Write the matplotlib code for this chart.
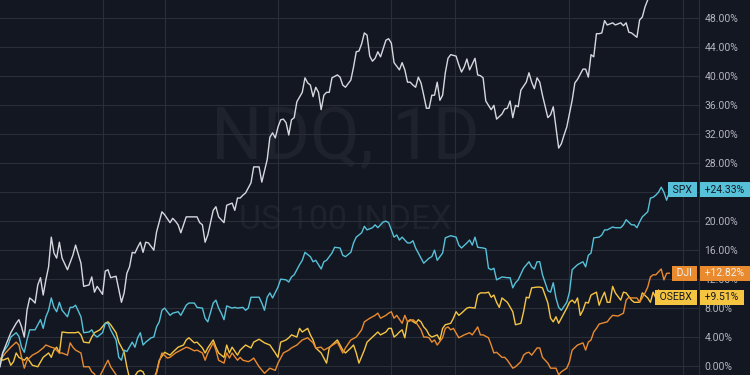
import matplotlib.pyplot as plt
from matplotlib.transforms import blended_transform_factory

plt.rcParams['font.family'] = ['Roboto', 'DejaVu Sans']

# percent change since start, by trading day
ndq_day = [0, 1, 4, 6, 7, 8, 9, 10, 11, 12, 13, 14, 15, 16, 17, 18, 19, 20, 21, 22, 23, 25, 27, 28, 30, 31, 33, 34, 35, 36,
           38, 39, 40, 41, 43, 45, 46, 47, 48, 49, 50, 51, 52, 53, 54, 55, 57, 58, 60, 61, 63, 64, 65, 66, 67, 69, 71, 73, 74, 75,
           76, 77, 79, 80, 81, 83, 84, 86, 87, 88, 89, 90, 91, 93, 94, 95, 96, 97, 99, 100, 101, 102, 103, 104, 105, 106, 107, 108, 109, 110,
           112, 113, 114, 115, 116, 117, 118, 119, 120, 121, 122, 123, 125, 126, 127, 128, 130, 131, 132, 133, 134, 135, 136, 137, 138, 139,
           140, 141, 143, 144, 145, 146, 147, 148, 149, 150, 151, 152, 153, 154, 155, 156, 157, 158, 159, 160, 161, 162, 163, 164, 165, 166,
           167, 169, 170, 171, 172, 173, 174, 176, 177, 178, 179, 180, 182, 183, 184, 186, 187, 188, 189, 190, 191, 192, 193, 195, 196, 197,
           198, 199, 200, 201, 203, 204, 205, 206, 207, 208, 209, 210, 212, 213, 214, 216, 217, 218, 219, 220, 221, 222, 223, 224, 225, 227,
           228, 230, 231, 232, 233, 234, 236, 237, 238, 239, 240, 242, 244, 246, 248, 250, 252]
ndq_pct = [-0.1, 1.8, 4.6, 5.9, 6.4, 5.4, 4.0, 7.7, 9.4, 9.1, 8.7, 11.2, 12.2, 9.8, 11.9, 13.7, 17.8, 15.6, 14.9, 17.1, 14.9, 13.3, 15.3, 16.7, 14.2, 11.0, 11.2, 12.3, 10.2, 11.0,
           9.9, 13.1, 13.3, 12.2, 12.4, 8.8, 10.1, 12.8, 13.7, 15.7, 15.6, 16.4, 17.1, 15.7, 17.1, 17.0, 16.0, 18.5, 21.3, 20.9, 19.8, 20.4, 20.0, 19.5, 18.4, 20.6, 20.6, 20.6, 19.8, 19.5,
           17.1, 18.1, 21.5, 22.0, 20.6, 19.8, 22.2, 22.5, 21.5, 23.2, 23.2, 23.6, 23.9, 25.3, 27.5, 27.5, 27.5, 25.4, 28.5, 31.6, 32.2, 31.5, 33.0, 34.0, 34.1, 33.6, 31.9, 34.0, 34.3, 36.5,
           37.8, 39.8, 39.1, 38.8, 37.2, 38.5, 37.8, 35.4, 37.4, 37.8, 37.8, 39.8, 40.2, 39.9, 38.8, 38.5, 39.5, 41.3, 43.4, 43.5, 44.5, 46.0, 45.7, 42.8, 42.1, 42.5,
           43.4, 42.7, 45.0, 45.2, 44.6, 41.9, 41.4, 40.9, 41.9, 40.9, 39.2, 39.2, 38.8, 38.5, 39.9, 39.1, 37.4, 35.6, 35.6, 37.4, 37.4, 39.2, 36.7, 37.4, 40.5, 42.5,
           43.0, 42.8, 41.6, 40.6, 41.3, 42.4, 40.9, 42.5, 40.2, 40.1, 39.8, 36.6, 35.4, 36.0, 34.1, 34.8, 35.5, 35.6, 36.6, 34.3, 36.0, 35.8, 38.1, 39.2, 40.5, 39.2,
           38.3, 39.8, 39.2, 37.4, 34.3, 34.7, 35.8, 33.0, 30.1, 30.7, 31.9, 33.0, 36.7, 39.1, 39.6, 41.0, 41.0, 39.9, 43.0, 42.7, 45.9, 45.9, 46.0, 47.7, 47.1, 47.4,
           47.1, 47.4, 47.0, 47.4, 46.1, 46.0, 45.4, 47.8, 48.2, 49.6, 50.6, 52.0, 53.1, 52.6, 54.0, 53.5, 54.5]

spx_day = [0, 1, 3, 4, 6, 7, 8, 9, 10, 11, 12, 13, 14, 15, 16, 17, 18, 19, 20, 21, 22, 23, 25, 26, 27, 28, 30, 31, 33, 34,
           35, 36, 38, 39, 40, 41, 43, 44, 45, 46, 47, 49, 50, 51, 52, 53, 54, 56, 57, 58, 59, 60, 61, 63, 64, 66, 67, 69, 70, 72,
           73, 75, 76, 77, 79, 80, 81, 82, 83, 84, 86, 87, 88, 90, 91, 92, 93, 94, 96, 97, 98, 99, 100, 101, 103, 104, 106, 107, 108, 109,
           111, 112, 113, 115, 116, 117, 119, 120, 121, 123, 124, 126, 127, 128, 130, 131, 132, 134, 135, 136, 138, 139, 140, 142, 143, 144,
           146, 147, 148, 149, 151, 152, 153, 154, 156, 157, 159, 160, 161, 162, 164, 165, 167, 169, 170, 171, 173, 174, 175, 176, 177, 179,
           180, 181, 182, 183, 184, 186, 188, 189, 190, 191, 192, 194, 196, 197, 198, 199, 200, 201, 203, 204, 205, 206, 207, 208, 210, 211,
           212, 214, 215, 216, 217, 218, 219, 220, 222, 223, 224, 225, 227, 228, 230, 231, 232, 234, 235, 236, 237, 238, 240, 241, 242, 243,
           244, 245, 246, 247, 248, 249]
spx_pct = [0.1, 1.8, 2.9, 4.0, 4.6, 4.1, 2.6, 1.9, 3.6, 5.0, 5.0, 5.0, 5.7, 6.4, 5.2, 6.8, 7.7, 9.4, 8.1, 7.5, 8.8, 7.7, 6.8, 8.1, 8.1, 8.4, 6.8, 4.6, 4.7, 5.0,
           4.3, 4.0, 4.6, 5.9, 5.9, 5.0, 3.6, 1.2, 0.8, 2.2, 2.0, 3.3, 2.6, 3.9, 4.6, 2.9, 3.3, 3.9, 4.0, 5.4, 6.1, 7.7, 8.0, 7.0, 7.3, 7.5, 7.0, 8.4, 8.7, 8.7,
           8.1, 8.0, 6.6, 6.1, 8.7, 9.1, 8.0, 7.3, 6.4, 8.3, 8.0, 8.1, 8.0, 8.1, 7.7, 8.0, 9.5, 9.5, 9.5, 8.7, 7.7, 9.5, 10.1, 9.4, 10.9, 12.0, 11.9, 11.6, 12.3, 12.6,
           14.0, 14.6, 15.7, 15.1, 14.4, 14.6, 13.4, 14.4, 14.6, 15.6, 16.4, 16.3, 15.3, 15.1, 15.7, 17.0, 17.8, 18.4, 19.3, 18.8, 19.1, 19.5, 19.1, 19.9, 20.0, 19.8,
           17.8, 18.1, 17.4, 17.8, 17.0, 17.0, 17.3, 16.3, 14.9, 14.2, 14.9, 15.1, 16.0, 14.6, 15.6, 17.7, 18.0, 17.8, 16.7, 16.3, 17.0, 17.4, 16.7, 17.8, 16.4, 16.3,
           16.2, 13.5, 13.3, 13.5, 11.9, 12.3, 12.2, 12.2, 10.8, 11.5, 11.9, 13.5, 14.4, 13.7, 13.4, 14.4, 14.4, 12.6, 10.4, 10.2, 11.5, 9.4, 8.1, 7.7, 8.8, 10.2,
           13.3, 14.0, 14.2, 14.4, 13.7, 15.3, 15.6, 17.7, 17.8, 18.1, 18.8, 18.8, 19.2, 19.1, 19.1, 19.5, 20.2, 19.5, 19.5, 19.1, 19.9, 20.6, 21.3, 23.2, 23.3, 23.6,
           24.0, 24.7, 24.0, 22.9, 24.0, 24.33]

dji_day = [0, 2, 4, 6, 7, 8, 9, 10, 12, 14, 15, 16, 17, 19, 20, 22, 23, 25, 26, 27, 28, 30, 31, 33, 34, 35, 36, 37, 39, 40,
           41, 43, 44, 46, 48, 50, 52, 54, 56, 58, 59, 60, 62, 63, 65, 67, 69, 70, 72, 73, 75, 76, 77, 79, 80, 81, 83, 84, 85, 86,
           88, 89, 90, 92, 93, 94, 96, 98, 100, 102, 103, 105, 107, 108, 110, 112, 114, 116, 117, 119, 120, 122, 125, 127, 128, 130, 132, 134, 135, 137,
           139, 140, 141, 143, 144, 145, 146, 147, 149, 150, 151, 153, 154, 156, 157, 158, 159, 160, 161, 162, 164, 165, 166, 167, 168, 170, 172, 174, 175, 177,
           178, 179, 181, 182, 183, 184, 186, 187, 188, 190, 191, 193, 194, 195, 196, 197, 199, 200, 201, 203, 204, 206, 207, 208, 210, 211, 212, 214, 216, 217,
           218, 219, 220, 221, 222, 223, 225, 226, 227, 229, 231, 232, 233, 234, 236, 237, 239, 240, 241, 242, 243, 245, 246, 247, 248]
dji_pct = [0.8, 1.8, 2.6, 3.3, 2.9, 1.2, -0.3, 0.8, 1.5, 1.9, 2.2, 2.5, 2.9, 2.6, 2.5, 1.8, 1.8, 1.5, 3.2, 2.6, 2.2, 1.8, -0.1, -0.1, -0.8, -1.1, -1.9, -1.4, 0.1, 0.8,
           -0.1, -1.2, -2.3, -3.2, -2.8, -3.9, -3.1, -3.6, -2.4, -1.0, 0.6, 1.8, 1.1, 1.2, 1.8, 2.2, 2.6, 2.5, 2.1, 2.2, 1.8, 0.8, 1.8, 3.2, 2.2, 0.8, 0.4, 1.8, 1.1, 1.8,
           0.8, 1.2, 0.8, 0.6, 0.8, 1.1, -0.1, -1.0, -0.3, -0.6, 0.4, 1.8, 2.2, 2.5, 2.9, 3.6, 3.9, 3.2, 2.5, 2.6, 2.2, 2.6, 3.3, 1.8, 2.5, 3.6, 4.0, 5.0, 6.1, 6.6,
           7.0, 7.3, 6.6, 7.0, 7.3, 7.5, 6.6, 7.0, 5.9, 7.0, 6.1, 6.4, 6.1, 5.0, 4.0, 4.0, 3.9, 3.3, 3.6, 2.9, 3.9, 5.2, 5.4, 5.0, 5.2, 3.9, 4.3, 4.6, 4.3, 5.4,
           4.3, 4.3, 3.9, 2.9, 1.8, 1.9, 1.2, 1.2, 0.8, -0.3, -0.1, 0.6, 1.5, 1.8, 1.9, 1.5, 2.5, 2.5, 1.2, 0.4, -0.3, -0.3, -1.2, -0.8, -0.3, 0.6, 2.2, 2.9, 3.2, 2.2,
           3.3, 3.6, 4.7, 5.2, 5.8, 5.9, 6.1, 6.6, 7.0, 6.9, 7.3, 9.1, 9.5, 9.4, 9.4, 8.8, 10.1, 10.9, 12.3, 12.6, 12.6, 13.4, 11.9, 12.8, 12.82]

osebx_day = [0, 1, 3, 4, 5, 6, 7, 9, 10, 12, 14, 16, 17, 18, 19, 20, 21, 22, 23, 25, 27, 28, 29, 30, 31, 33, 34, 35, 37, 39,
             40, 41, 43, 44, 46, 47, 48, 49, 51, 52, 53, 54, 56, 57, 58, 59, 61, 63, 64, 66, 68, 69, 70, 72, 73, 75, 76, 77, 79, 80,
             81, 83, 84, 85, 86, 88, 89, 91, 93, 94, 96, 98, 100, 102, 103, 104, 106, 107, 108, 110, 111, 112, 114, 115, 116, 117, 119, 121, 122, 123,
             125, 127, 128, 130, 131, 132, 133, 135, 136, 138, 140, 141, 143, 144, 145, 146, 147, 148, 149, 150, 151, 152, 154, 155, 156, 157, 158, 159, 160, 162,
             163, 164, 165, 167, 168, 169, 170, 171, 173, 174, 176, 177, 178, 180, 181, 182, 183, 184, 185, 186, 187, 188, 190, 191, 192, 193, 194, 195, 196, 197,
             199, 200, 201, 203, 204, 205, 206, 207, 208, 209, 210, 211, 212, 213, 214, 215, 216, 217, 218, 219, 221, 222, 223, 224, 225, 226, 227, 228, 230, 231,
             232, 234, 235, 237, 238, 240, 241, 242, 243, 244, 245]
osebx_pct = [1.1, 0.8, 1.1, 0.1, 0.6, 1.8, 1.2, 0.8, 1.2, 0.1, -0.1, 1.2, 1.5, 1.8, 1.2, 2.2, 2.6, 1.8, 4.7, 4.6, 4.6, 4.6, 4.7, 4.3, 3.3, 3.2, 4.0, 4.6, 5.0, 5.9,
             6.1, 5.7, 4.6, 3.3, 1.9, -0.1, -1.7, -1.9, -0.8, -0.6, -0.8, -1.7, -2.2, -1.7, -0.8, 0.8, 1.9, 1.5, 1.9, 2.6, 2.9, 3.6, 3.9, 3.2, 3.3, 2.5, 1.8, 2.5, 3.6, 2.6,
             1.8, 1.2, 2.9, 1.8, 2.6, 1.5, 2.2, 2.9, 2.5, 3.3, 3.7, 3.2, 2.9, 1.8, 1.2, 3.3, 3.6, 3.9, 4.3, 4.0, 5.2, 4.7, 5.2, 4.3, 3.6, 2.5, 1.8, 0.4, 2.5, 2.9,
             3.6, 2.2, 1.8, 2.5, 2.9, 1.8, 0.4, 2.2, 3.3, 4.0, 4.7, 4.3, 4.7, 5.2, 5.2, 4.0, 4.3, 4.7, 5.0, 3.9, 6.1, 6.4, 5.9, 6.4, 6.1, 5.4, 5.0, 4.3, 4.0, 4.3,
             3.6, 5.2, 5.7, 5.9, 6.6, 7.5, 7.0, 7.3, 8.0, 8.1, 8.0, 9.8, 10.1, 10.1, 10.2, 9.5, 9.8, 8.8, 8.1, 9.4, 9.1, 8.8, 7.5, 5.7, 5.8, 5.9, 7.5, 9.5, 9.4, 10.8,
             10.9, 10.9, 10.8, 8.7, 6.6, 6.1, 6.8, 5.9, 6.6, 7.3, 8.0, 8.8, 9.1, 8.7, 9.4, 7.0, 7.7, 8.8, 8.7, 9.8, 10.2, 8.4, 9.4, 10.2, 8.8, 8.8, 11.0, 10.1, 9.1, 10.2,
             10.1, 9.1, 8.8, 8.8, 10.1, 9.4, 8.8, 10.2, 9.4, 10.5, 9.51]

y_ticks = [0, 4, 8, 12, 16, 20, 24, 28, 32, 36, 40, 44, 48]
x_grid_days = [38, 61, 103, 145, 168.5, 211, 253]

BG = '#131722'
GRID = '#2a2e39'
TEXT = '#b2b5be'
C_NDQ = '#d6d8de'
C_SPX = '#56c1d8'
C_DJI = '#ea8a2e'
C_OSEBX = '#f5c542'

fig = plt.figure(figsize=(7.5, 3.75), dpi=100, facecolor=BG)
ax = fig.add_axes([0, 0, 699 / 750, 1], facecolor=BG)
ax.set_xlim(0, 259)
ax.set_ylim(-1.24, 50.55)

ax.set_yticks(y_ticks)
ax.set_yticklabels([f'{v:.2f}%' for v in y_ticks])
ax.set_xticks(x_grid_days)
ax.yaxis.tick_right()
ax.tick_params(axis='y', length=0, pad=4, labelsize=7.5, labelcolor=TEXT)
ax.tick_params(axis='x', length=0, labelbottom=False)
ax.grid(color=GRID, lw=0.8)
ax.set_axisbelow(True)
for side in ['top', 'bottom', 'left']:
    ax.spines[side].set_visible(False)
ax.spines['right'].set_color(GRID)
ax.spines['right'].set_linewidth(0.8)

# watermark
ax.text(0.494, 0.627, 'NDQ, 1D', transform=ax.transAxes, ha='center', va='center',
        fontsize=52, color='#1e222d', zorder=0.2)
ax.text(0.494, 0.413, 'US 100 INDEX', transform=ax.transAxes, ha='center', va='center',
        fontsize=24.5, color='#1e222d', zorder=0.2)

ax.plot(osebx_day, osebx_pct, color=C_OSEBX, lw=1.0, zorder=3)
ax.plot(dji_day, dji_pct, color=C_DJI, lw=1.0, zorder=3)
ax.plot(spx_day, spx_pct, color=C_SPX, lw=1.0, zorder=3)
ax.plot(ndq_day, ndq_pct, color=C_NDQ, lw=1.0, zorder=3)

trans = blended_transform_factory(ax.transAxes, ax.transData)
labels = [('SPX', spx_pct[-1], C_SPX, BG),
          ('DJI', dji_pct[-1], C_DJI, '#f0f0f0'),
          ('OSEBX', osebx_pct[-1], C_OSEBX, BG)]
for name, val, col, tcol in labels:
    ax.annotate(f' {name} ', xy=(1, val), xycoords=trans, xytext=(-3, 0), textcoords='offset points',
                ha='right', va='center', fontsize=7.5, color=tcol, annotation_clip=False, zorder=6,
                bbox=dict(boxstyle='square,pad=0.25', fc=col, ec='none'))
    ax.annotate(f' +{val:.2f}% ', xy=(1, val), xycoords=trans, xytext=(2.5, 0), textcoords='offset points',
                ha='left', va='center', fontsize=7.5, color=tcol, annotation_clip=False, zorder=6,
                bbox=dict(boxstyle='square,pad=0.25', fc=col, ec='none'))

fig.savefig('out.png', dpi=100, facecolor=BG)
